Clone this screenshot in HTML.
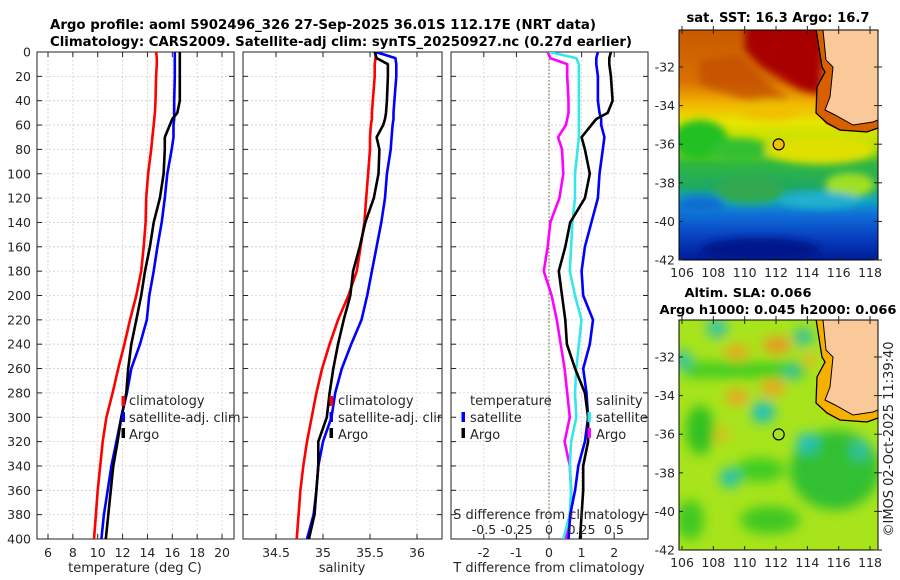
<!DOCTYPE html>
<html><head><meta charset="utf-8">
<style>
html,body{margin:0;padding:0;background:#fff;}
svg{display:block;font-family:"DejaVu Sans","Liberation Sans",sans-serif;}
</style></head>
<body>
<svg id="fig" width="900" height="580" viewBox="0 0 900 580" xmlns="http://www.w3.org/2000/svg">
<defs>
  <clipPath id="cp1"><rect x="37" y="52" width="197" height="487"/></clipPath>
  <clipPath id="cp2"><rect x="243" y="52" width="199" height="487"/></clipPath>
  <clipPath id="cp3"><rect x="451" y="52" width="197" height="487"/></clipPath>
  <clipPath id="cm1"><rect x="679" y="30" width="199" height="230"/></clipPath>
  <clipPath id="cm2"><rect x="679" y="320" width="199" height="230"/></clipPath>
  <filter id="bl" x="-20%" y="-20%" width="140%" height="140%"><feGaussianBlur stdDeviation="4"/></filter>
  <filter id="bl2" x="-50%" y="-50%" width="200%" height="200%"><feGaussianBlur stdDeviation="6"/></filter>
  <linearGradient id="sstg" x1="0" y1="0" x2="0" y2="1">
    <stop offset="0" stop-color="#c85a00"/>
    <stop offset="0.22" stop-color="#d87000"/>
    <stop offset="0.32" stop-color="#f2b400"/>
    <stop offset="0.40" stop-color="#e8e400"/>
    <stop offset="0.50" stop-color="#b8e000"/>
    <stop offset="0.58" stop-color="#30b840"/>
    <stop offset="0.68" stop-color="#20a860"/>
    <stop offset="0.74" stop-color="#10a8c0"/>
    <stop offset="0.80" stop-color="#1070d8"/>
    <stop offset="0.90" stop-color="#0840c0"/>
    <stop offset="1" stop-color="#001c98"/>
  </linearGradient>
</defs>

<text x="50" y="29" font-size="13" font-weight="bold" textLength="546" lengthAdjust="spacingAndGlyphs" fill="#000">Argo profile: aoml 5902496_326 27-Sep-2025 36.01S 112.17E (NRT data)</text>
<text x="50" y="46" font-size="13" font-weight="bold" textLength="582" lengthAdjust="spacingAndGlyphs" fill="#000">Climatology: CARS2009. Satellite-adj clim: synTS_20250927.nc (0.27d earlier)</text>

<g id="panels"></g>

<g>
  <g clip-path="url(#cm1)">
    <rect x="679" y="30" width="199" height="230" fill="url(#sstg)"/>
    <g filter="url(#bl)">
      <path d="M745,20 L825,20 L820,95 L800,90 L780,78 L760,66 L745,50 Z" fill="#a80000"/>
      <path d="M700,60 L740,55 L770,85 L790,100 L760,105 L730,95 L700,85Z" fill="#c04800" opacity="0.7"/>
      <ellipse cx="770" cy="110" rx="30" ry="10" fill="#f0c000"/>
      <ellipse cx="700" cy="140" rx="28" ry="20" fill="#20c020"/>
      <ellipse cx="740" cy="150" rx="30" ry="12" fill="#30c030"/>
      <ellipse cx="820" cy="150" rx="55" ry="14" fill="#e0e000"/>
      <ellipse cx="850" cy="185" rx="25" ry="12" fill="#a0e020"/>
      <ellipse cx="750" cy="190" rx="35" ry="14" fill="#30a850"/>
      <ellipse cx="820" cy="200" rx="40" ry="8" fill="#20b0d0"/>
      <ellipse cx="700" cy="205" rx="25" ry="10" fill="#1070d0"/>
      <ellipse cx="760" cy="250" rx="60" ry="12" fill="#00188a"/>
    </g>
    <path d="M823,30 L826,60 L833,67 L830,97 L825,110 L835,115 L853,125 L873,122 L878,120 L878,128 L867,132 L840,131 L826,124 L816,113 L817,87 L825,72 L822,67 L816,30Z" fill="#d86000"/>
    <path d="M823,30 L826,60 L833,67 L830,97 L825,110 L835,115 L853,125 L873,122 L878,120 L878,30Z" fill="#f9c99a"/>
    <path d="M816,29 L822,67 L825,72 L817,87 L816,113 L827,123 L840,130 L867,132 L878,128" fill="none" stroke="#000" stroke-width="1.3"/>
    <path d="M823,30 L826,60 L833,67 L830,97 L825,110 L835,115 L853,125 L873,122 L878,120" fill="none" stroke="#000" stroke-width="1"/>
  </g>
  <rect x="679" y="30" width="199" height="230" fill="none" stroke="#000" stroke-width="1"/>
</g>

<g>
  <g clip-path="url(#cm2)">
    <rect x="679" y="320" width="199" height="230" fill="#a8e41c"/>
    <g filter="url(#bl2)">
      <rect x="685" y="362" width="120" height="16" fill="#40cc20"/>
      <ellipse cx="700" cy="430" rx="14" ry="25" fill="#30c020"/>
      <ellipse cx="835" cy="470" rx="45" ry="40" fill="#30c030"/>
      <ellipse cx="760" cy="470" rx="25" ry="12" fill="#40cc20"/>
      <ellipse cx="770" cy="520" rx="30" ry="14" fill="#40c820"/>
      <ellipse cx="690" cy="520" rx="14" ry="20" fill="#40c820"/>
      <ellipse cx="717" cy="328" rx="10" ry="10" fill="#30c0b0"/>
      <ellipse cx="683" cy="360" rx="8" ry="10" fill="#30c0b0"/>
      <ellipse cx="803" cy="337" rx="10" ry="9" fill="#30c0a0"/>
      <ellipse cx="792" cy="372" rx="8" ry="8" fill="#30c0a0"/>
      <ellipse cx="763" cy="412" rx="12" ry="11" fill="#20c0b8"/>
      <ellipse cx="807" cy="443" rx="11" ry="10" fill="#20c0c0"/>
      <ellipse cx="860" cy="450" rx="9" ry="10" fill="#30c0a8"/>
      <ellipse cx="730" cy="478" rx="10" ry="10" fill="#20c0b0"/>
      <ellipse cx="777" cy="345" rx="14" ry="8" fill="#f09020"/>
      <ellipse cx="737" cy="352" rx="12" ry="7" fill="#f0a020"/>
      <ellipse cx="773" cy="388" rx="12" ry="8" fill="#f0a020"/>
      <ellipse cx="737" cy="397" rx="11" ry="8" fill="#f0a020"/>
      <ellipse cx="722" cy="435" rx="6" ry="7" fill="#f0b020"/>
      <ellipse cx="810" cy="360" rx="7" ry="6" fill="#f0b020"/>
    </g>
    <path d="M823,320 L826,350 L833,357 L830,387 L825,400 L835,405 L853,415 L873,412 L878,410 L878,418 L867,422 L840,421 L826,414 L816,403 L817,377 L825,362 L822,357 L816,320Z" fill="#f5b000"/>
    <path d="M823,320 L826,350 L833,357 L830,387 L825,400 L835,405 L853,415 L873,412 L878,410 L878,320Z" fill="#f9c99a"/>
    <path d="M816,319 L822,357 L825,362 L817,377 L816,403 L827,413 L840,420 L867,422 L878,418" fill="none" stroke="#000" stroke-width="1.3"/>
    <path d="M823,320 L826,350 L833,357 L830,387 L825,400 L835,405 L853,415 L873,412 L878,410" fill="none" stroke="#000" stroke-width="1"/>
  </g>
  <rect x="679" y="320" width="199" height="230" fill="none" stroke="#000" stroke-width="1"/>
</g>

<text x="778" y="22" font-size="13" font-weight="bold" text-anchor="middle" textLength="183" lengthAdjust="spacingAndGlyphs">sat. SST: 16.3 Argo: 16.7</text>
<text x="748" y="297" font-size="12.5" font-weight="bold" text-anchor="middle" textLength="127" lengthAdjust="spacingAndGlyphs">Altim. SLA: 0.066</text>
<text x="778" y="314" font-size="12.5" font-weight="bold" text-anchor="middle" textLength="237" lengthAdjust="spacingAndGlyphs">Argo h1000: 0.045 h2000: 0.066</text>
<text transform="translate(893,439) rotate(-90)" font-size="13" text-anchor="middle" fill="#222">©IMOS 02-Oct-2025 11:39:40</text>
<g id="maps-axes"></g>

<script>
const depth = [0,5,10,20,40,50,55,60,70,80,100,120,140,160,180,200,220,240,260,280,300,320,340,360,380,400];
const tClim = [14.7,14.75,14.75,14.7,14.65,14.6,14.55,14.5,14.4,14.3,14.05,13.9,13.85,13.7,13.5,13.1,12.6,12.15,11.65,11.2,10.7,10.4,10.2,10.0,9.85,9.7];
const tSat  = [16.2,16.2,16.2,16.2,16.15,16.15,16.15,16.1,16.1,15.95,15.6,15.4,15.15,14.8,14.5,14.15,13.95,13.4,12.7,12.35,11.9,11.5,11.1,10.8,10.5,10.3];
const tArgo = [16.6,16.6,16.6,16.6,16.6,16.4,16.0,15.8,15.4,15.4,15.3,15.0,14.5,14.2,13.8,13.5,13.1,12.7,12.45,12.3,11.9,11.6,11.25,11.05,10.85,10.65];
const sClim = [35.56,35.56,35.55,35.55,35.53,35.52,35.52,35.51,35.5,35.5,35.48,35.46,35.44,35.40,35.36,35.27,35.16,35.07,34.99,34.93,34.88,34.83,34.79,34.76,34.74,34.72];
const sSat  = [35.56,35.77,35.78,35.78,35.76,35.75,35.75,35.74,35.73,35.72,35.68,35.66,35.62,35.57,35.52,35.47,35.41,35.3,35.2,35.13,35.09,35.0,34.95,34.93,34.9,34.83];
const sArgo = [35.55,35.57,35.69,35.69,35.68,35.67,35.66,35.64,35.57,35.6,35.59,35.54,35.45,35.39,35.32,35.29,35.22,35.16,35.11,35.07,35.04,34.95,34.95,34.93,34.91,34.85];
const depthTicks = [0,20,40,60,80,100,120,140,160,180,200,220,240,260,280,300,320,340,360,380,400];
const tTicks = [6,8,10,12,14,16,18,20];
const sTicks = [34.5,35,35.5,36];
const dTTicks = [-2,-1,0,1,2];
const dSTicks = [-0.5,-0.25,0,0.25,0.5];
const dSTickLabels = ["-0.5","-0.25","0","0.25","0.5"];
const lonTicks = [106,108,110,112,114,116,118];
const latTicks = [-32,-34,-36,-38,-40,-42];
const argoLon = 112.17, argoLat = -36.01;

const Y0 = 52, Y1 = 539;
const yD = d => Y0 + d * (Y1 - Y0) / 400;
const xT = t => 48 + (t - 6) * 12.43;
const xS = s => 276 + (s - 34.5) * 94;
const xdT = v => 549 + v * 32.6;
const xdS = v => 549 + v * 130;
const mx = lon => 682 + (lon - 106) * 15.67;
const my = lat => 67 + (-32 - lat) * 19.3;

const NS = "http://www.w3.org/2000/svg";
function mk(tag, attrs, parent) {
  const e = document.createElementNS(NS, tag);
  for (const k in attrs) e.setAttribute(k, attrs[k]);
  parent.appendChild(e);
  return e;
}
const root = document.getElementById('panels');

function panelFrame(x0, x1, name, xticks, xfn, labels) {
  const g = mk('g', {}, root);
  
  
  for (const d of depthTicks) {
    const gl = mk('line', {x1:x0, x2:x1, y1:yD(d), y2:yD(d), stroke:'#c8cbe8', 'stroke-width':0.8, 'stroke-dasharray':'2,2'}, g);
    
    
    mk('line', {x1:x0, x2:x0+5, y1:yD(d), y2:yD(d), stroke:'#222', 'stroke-width':1}, g);
    mk('line', {x1:x1-5, x2:x1, y1:yD(d), y2:yD(d), stroke:'#222', 'stroke-width':1}, g);
  }
  xticks.forEach((v, i) => {
    const x = xfn(v);
    const gl = mk('line', {x1:x, x2:x, y1:Y0, y2:Y1, stroke:'#e8c8c8', 'stroke-width':0.8, 'stroke-dasharray':'2,2'}, g);
    
    
    mk('line', {x1:x, x2:x, y1:Y0, y2:Y0+5, stroke:'#222', 'stroke-width':1}, g);
    mk('line', {x1:x, x2:x, y1:Y1-5, y2:Y1, stroke:'#222', 'stroke-width':1}, g);
    if (labels) {
      const t = mk('text', {x:x, y:557, 'font-size':12.5, 'text-anchor':'middle', fill:'#262626'}, g);
      t.textContent = labels[i];
      
      
    }
  });
  const fr = mk('rect', {x:x0, y:Y0, width:x1-x0, height:Y1-Y0, fill:'none', stroke:'#222', 'stroke-width':1}, g);
  
  
  return g;
}
function line(g, xs, xfn, color, clip, name, w) {
  let d = '';
  xs.forEach((v, i) => { d += (i ? 'L' : 'M') + xfn(v).toFixed(1) + ',' + yD(depth[i]).toFixed(1); });
  const p = mk('path', {d:d, fill:'none', stroke:color, 'stroke-width':w || 2.6, 'stroke-linejoin':'round', 'clip-path':'url(#' + clip + ')'}, g);
  
  
}
function label(g, x, y, txt, name, anchor, size) {
  const t = mk('text', {x:x, y:y, 'font-size':size || 13, 'text-anchor':anchor || 'start', fill:'#262626'}, g);
  t.textContent = txt;
  
  
  return t;
}
function marker(g, x, y, color, name) {
  const r = mk('rect', {x:x-1.5, y:y-6, width:3.5, height:10, fill:color}, g);
  
  
}

const g1 = panelFrame(37, 234, 'temperature-panel', tTicks, xT, tTicks.map(String));
depthTicks.forEach(d => { label(g1, 31, yD(d) + 4.5, String(d), 'depth-tick-label', 'end', 12.5); });
line(g1, tClim, xT, '#ff0000', 'cp1', 'temperature-climatology-line');
line(g1, tSat, xT, '#0000ff', 'cp1', 'temperature-satellite-line');
line(g1, tArgo, xT, '#000000', 'cp1', 'temperature-argo-line');
label(g1, 135, 572, 'temperature (deg C)', 'temperature-axis-title', 'middle');
marker(g1, 123, 402, '#ff0000', 'legend-climatology-marker');
marker(g1, 123, 418, '#0000ff', 'legend-satellite-marker');
marker(g1, 123, 434, '#000000', 'legend-argo-marker');
label(g1, 129, 405, 'climatology', 'legend-climatology');
label(g1, 129, 422, 'satellite-adj. clim', 'legend-satellite-adj-clim');
label(g1, 129, 439, 'Argo', 'legend-argo');

const g2 = panelFrame(243, 442, 'salinity-panel', sTicks, xS, sTicks.map(String));
line(g2, sClim, xS, '#ff0000', 'cp2', 'salinity-climatology-line');
line(g2, sSat, xS, '#0000ff', 'cp2', 'salinity-satellite-line');
line(g2, sArgo, xS, '#000000', 'cp2', 'salinity-argo-line');
label(g2, 342, 572, 'salinity', 'salinity-axis-title', 'middle');
const lg2 = mk('g', {'clip-path':'url(#cp2)'}, g2);
marker(lg2, 331, 402, '#ff0000', 'legend-climatology-marker');
marker(lg2, 331, 418, '#0000ff', 'legend-satellite-marker');
marker(lg2, 331, 434, '#000000', 'legend-argo-marker');
label(lg2, 338, 405, 'climatology', 'legend-climatology');
label(lg2, 338, 422, 'satellite-adj. clim', 'legend-satellite-adj-clim');
label(lg2, 338, 439, 'Argo', 'legend-argo');

const g3 = panelFrame(451, 648, 'difference-panel', dTTicks, xdT, dTTicks.map(String));
const zl = mk('line', {x1:xdT(0), x2:xdT(0), y1:Y0, y2:Y1, stroke:'#556b2f', 'stroke-width':1, 'stroke-dasharray':'1.5,2'}, g3);


const dTSat = tSat.map((v, i) => v - tClim[i]);
const dTArgo = tArgo.map((v, i) => v - tClim[i]);
const dSSat = sSat.map((v, i) => v - sClim[i]);
const dSArgo = sArgo.map((v, i) => v - sClim[i]);
line(g3, dSArgo, xdS, '#ff00ff', 'cp3', 'salinity-diff-argo-line');
line(g3, dSSat, xdS, '#33e8e8', 'cp3', 'salinity-diff-satellite-line');
line(g3, dTSat, xdT, '#0000ff', 'cp3', 'temperature-diff-satellite-line');
line(g3, dTArgo, xdT, '#000000', 'cp3', 'temperature-diff-argo-line');
label(g3, 549, 572, 'T difference from climatology', 'T-difference-axis-title', 'middle');
label(g3, 549, 519, 'S difference from climatology', 'S-difference-axis-title', 'middle');
dSTicks.forEach((v, i) => { label(g3, xdS(v), 534, dSTickLabels[i], 'S-difference-tick-label', 'middle', 12.5); });
label(g3, 470, 405, 'temperature', 'legend-temperature-header');
marker(g3, 463, 418, '#0000ff', 'legend-t-satellite-marker');
marker(g3, 463, 434, '#000000', 'legend-t-argo-marker');
label(g3, 470, 422, 'satellite', 'legend-t-satellite');
label(g3, 470, 439, 'Argo', 'legend-t-argo');
label(g3, 596, 405, 'salinity', 'legend-salinity-header');
marker(g3, 589, 418, '#33e8e8', 'legend-s-satellite-marker');
marker(g3, 589, 434, '#ff00ff', 'legend-s-argo-marker');
label(g3, 596, 422, 'satellite', 'legend-s-satellite');
label(g3, 596, 439, 'Argo', 'legend-s-argo');

const ma = document.getElementById('maps-axes');
[0, 290].forEach((off, mi) => {
  const top = 30 + off, bot = 260 + off;
  lonTicks.forEach(lon => {
    const x = mx(lon);
    mk('line', {x1:x, x2:x, y1:top, y2:top+4, stroke:'#222'}, ma);
    mk('line', {x1:x, x2:x, y1:bot-4, y2:bot, stroke:'#222'}, ma);
    mk('line', {x1:x, x2:x, y1:top-4, y2:top, stroke:'#222'}, ma);
    label(ma, x, bot + 17, String(lon), mi ? 'sla-lon-tick-label' : 'sst-lon-tick-label', 'middle', 12.5);
  });
  latTicks.forEach(lat => {
    const y = my(lat) + off;
    mk('line', {x1:679, x2:683, y1:y, y2:y, stroke:'#222'}, ma);
    mk('line', {x1:874, x2:882, y1:y, y2:y, stroke:'#222'}, ma);
    label(ma, 675, y + 4.5, String(lat), mi ? 'sla-lat-tick-label' : 'sst-lat-tick-label', 'end', 12.5);
  });
  const c = mk('circle', {cx:mx(argoLon), cy:my(argoLat) + off, r:5.5, fill:mi ? 'none' : '#f0c000', stroke:'#000', 'stroke-width':1.2}, ma);
  
  
});
</script>
</svg>
</body></html>
